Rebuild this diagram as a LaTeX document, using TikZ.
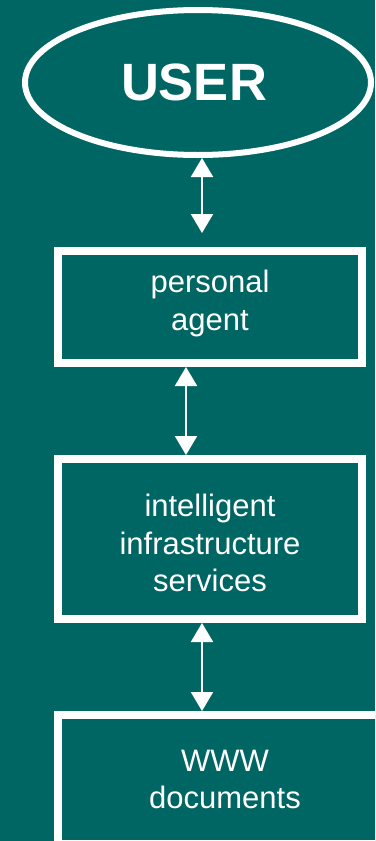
\documentclass[tikz,border=0pt]{standalone}
\usepackage{fontspec}
\setmainfont{Liberation Sans}
\usetikzlibrary{arrows.meta,shapes.geometric}
\definecolor{bgteal}{HTML}{006664}
\tikzset{
  boxnode/.style={draw=white, line width=8pt, fill=bgteal, text=white, align=center,
    font=\fontsize{31}{37.5}\selectfont, inner sep=0pt},
  usernode/.style={ellipse, draw=white, line width=6pt, text=white, inner sep=0pt,
    font=\fontsize{52.5}{60}\selectfont\bfseries},
  biarrow/.style={draw=white, line width=2pt, {Triangle[width=22pt,length=19pt]}-{Triangle[width=22pt,length=19pt]}}
}
\begin{document}
\begin{tikzpicture}[x=1pt,y=-1pt]
\useasboundingbox (0,0) rectangle (375,841);
\clip (0,0) rectangle (375,841);
\fill[bgteal] (0,0) rectangle (375,841);
\node[usernode, minimum width=346pt, minimum height=145pt] (user) at (198,82.5) {\hspace*{-8pt}USER};
\node[boxnode, minimum width=304pt, minimum height=112pt] (agent) at (210,307) {personal\\agent\rule[-13.5pt]{0pt}{1pt}};
\node[boxnode, minimum width=304pt, minimum height=160pt] (infra) at (210,539) {\rule{0pt}{30.5pt}intelligent\\infrastructure\\services};
\node[boxnode, minimum width=334pt, minimum height=129pt] (www) at (225,779.5) {WWW\\documents};
\coordinate (a1) at (202,0);
\coordinate (a1end) at (202,233);
\coordinate (a2) at (186,0);
\coordinate (a3) at (202,0);
\draw[biarrow] (user.south -| a1) -- (a1end);
\draw[biarrow] (agent.south -| a2) -- (infra.north -| a2);
\draw[biarrow] (infra.south -| a3) -- (www.north -| a3);
\end{tikzpicture}
\end{document}
